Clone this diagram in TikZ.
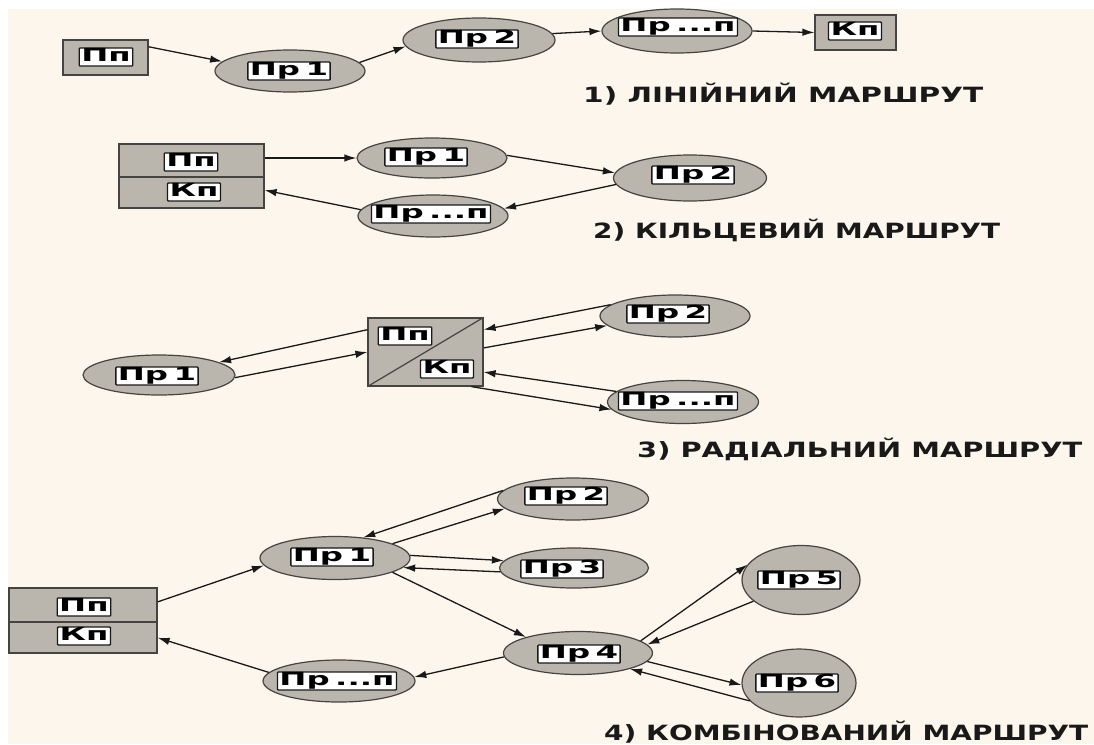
\documentclass[tikz,border=0pt]{standalone}
\usepackage{fontspec}
\usepackage{graphicx}
\usetikzlibrary{shapes.geometric,arrows.meta}
\newfontfamily\dvs{DejaVu Sans}
\definecolor{bgc}{RGB}{253,246,236}
\definecolor{shp}{RGB}{186,181,173}
\definecolor{edg}{RGB}{70,68,65}
\definecolor{ink}{RGB}{25,25,25}
\newcommand\LB[1]{\scalebox{1.8}[1]{#1}}
\tikzset{
  ell/.style={ellipse, draw=edg, line width=1.2pt, fill=shp, inner sep=0pt},
  box/.style={rectangle, draw=edg, line width=1.2pt, fill=shp, inner sep=0pt},
  lbl/.style={rectangle, draw=ink, line width=1.3pt, fill=white, inner xsep=2pt, inner ysep=1pt,
    text height=12.5pt, text depth=3.5pt, rounded corners=0.8pt,
    font=\dvs\bfseries\fontsize{18}{18}\selectfont},
  arr/.style={draw=ink, line width=1.3pt, -{Latex[length=12pt,width=7.5pt]}},
  captxt/.style={anchor=base west, inner sep=0pt, text=ink, font=\dvs\bfseries\fontsize{21}{21}\selectfont},
  divl/.style={draw=edg, line width=1.2pt}
}
\begin{document}
\begin{tikzpicture}[x=1pt,y=1pt]
\useasboundingbox (0,0) rectangle (1094,-744);
\fill[white] (0,0) rectangle (1094,-744);
\fill[bgc] (8,-9) rectangle (1094,-744);

% ---------- 1) linear ----------
\node[box, minimum width=85pt, minimum height=35pt] (A1) at (105.5,-57.5) {};
\node[ell, minimum width=150pt, minimum height=42pt] (B1) at (290,-71) {};
\node[ell, minimum width=152pt, minimum height=44pt] (C1) at (479,-40) {};
\node[ell, minimum width=150pt, minimum height=44pt] (D1) at (677,-31) {};
\node[box, minimum width=81pt, minimum height=35pt] (K1) at (855.5,-32.5) {};
\node[lbl] (A1l) at (106,-57) {\LB{Пп}};
\node[lbl] (B1l) at (289,-71) {\LB{Пр\,1}};
\node[lbl] (C1l) at (477,-39) {\LB{Пр\,2}};
\node[lbl] (D1l) at (678,-27) {\LB{Пр\,...п}};
\node[lbl] (K1l) at (855,-31) {\LB{Кп}};
\draw[arr] (A1.14) -- (B1.172);
\draw[arr] (B1.7) -- (C1.185);
\draw[arr] (C1.5) -- (D1.180);
\draw[arr] (D1.east) -- (K1.west);
\node[captxt] (T1) at (583,-102) {\resizebox{400pt}{\height}{1) ЛІНІЙНИЙ МАРШРУТ}};

% ---------- 2) ring ----------
\node[box, minimum width=145pt, minimum height=64pt] (A2) at (191.5,-176) {};
\coordinate (d2) at (0,-177);
\draw[divl] (A2.west |- d2) -- (A2.east |- d2);
\node[ell, minimum width=150pt, minimum height=40pt] (B2) at (432,-158) {};
\node[ell, minimum width=150pt, minimum height=42pt] (D2) at (433,-216) {};
\node[ell, minimum width=153pt, minimum height=46pt] (C2) at (690,-178) {};
\node[lbl] (A2l) at (191,-162) {\LB{Пп}};
\node[lbl] (A2k) at (194,-192) {\LB{Кп}};
\node[lbl] (B2l) at (426,-157) {\LB{Пр\,1}};
\node[lbl] (D2l) at (431,-214) {\LB{Пр\,...п}};
\node[lbl] (C2l) at (693,-175) {\LB{Пр\,2}};
\draw[arr] (A2.east |- B2.west) -- (B2.west);
\draw[arr] (B2.2) -- (C2.176);
\draw[arr] (C2.185) -- (D2.6);
\draw[arr] (D2.175) -- (A2.-11);
\node[captxt] (T2) at (593,-238) {\resizebox{407pt}{\height}{2) КІЛЬЦЕВИЙ МАРШРУТ}};

% ---------- 3) radial ----------
\node[box, minimum width=115pt, minimum height=68pt] (S3) at (425.5,-352) {};
\draw[divl] (S3.south west) -- (S3.north east);
\node[ell, minimum width=152pt, minimum height=40pt] (B3) at (159,-375) {};
\node[ell, minimum width=150pt, minimum height=42pt] (C3) at (675,-316) {};
\node[ell, minimum width=151pt, minimum height=43pt] (D3) at (683,-402) {};
\node[lbl] (S3l) at (405,-336) {\LB{Пп}};
\node[lbl] (S3k) at (447,-369) {\LB{Кп}};
\node[lbl] (B3l) at (157,-376) {\LB{Пр\,1}};
\node[lbl] (C3l) at (668,-314) {\LB{Пр\,2}};
\node[lbl] (D3l) at (678,-401) {\LB{Пр\,...п}};
\draw[arr] (S3.159) -- (B3.12);
\draw[arr] (B3.-2) -- (S3.west);
\draw[arr] (C3.170) -- (S3.21);
\draw[arr] (S3.4) -- (C3.188);
\draw[arr] (D3.171) -- (S3.-19);
\draw[arr] (S3.-37) -- (D3.186);
\node[captxt] (T3) at (637,-457) {\resizebox{445pt}{\height}{3) РАДІАЛЬНИЙ МАРШРУТ}};

% ---------- 4) combined ----------
\node[box, minimum width=148pt, minimum height=65pt] (A4) at (83,-620.5) {};
\coordinate (d4) at (0,-622);
\draw[divl] (A4.west |- d4) -- (A4.east |- d4);
\node[ell, minimum width=150pt, minimum height=43pt] (B4) at (335,-558) {};
\node[ell, minimum width=152pt, minimum height=42pt] (E4) at (339,-681) {};
\node[ell, minimum width=151pt, minimum height=42pt] (C4) at (573,-499) {};
\node[ell, minimum width=149pt, minimum height=40pt] (F4) at (574,-568) {};
\node[ell, minimum width=149pt, minimum height=43pt] (G4) at (578,-653) {};
\node[ell, minimum width=118pt, minimum height=69pt] (H4) at (801,-580) {};
\node[ell, minimum width=114pt, minimum height=68pt] (I4) at (799,-683) {};
\node[lbl] (A4l) at (84,-607) {\LB{Пп}};
\node[lbl] (A4k) at (84,-636) {\LB{Кп}};
\node[lbl] (B4l) at (332,-557) {\LB{Пр\,1}};
\node[lbl] (E4l) at (337,-681) {\LB{Пр\,...п}};
\node[lbl] (C4l) at (566,-496) {\LB{Пр\,2}};
\node[lbl] (F4l) at (562,-569) {\LB{Пр\,3}};
\node[lbl] (G4l) at (579,-654) {\LB{Пр\,4}};
\node[lbl] (H4l) at (799,-580) {\LB{Пр\,5}};
\node[lbl] (I4l) at (797,-683) {\LB{Пр\,6}};
\draw[arr] (A4.14) -- (B4.186);
\draw[arr] (E4.173) -- (A4.-13);
\draw[arr] (B4.14) -- (C4.188);
\draw[arr] (C4.173) -- (B4.36);
\draw[arr] (B4.2) -- (F4.174);
\draw[arr] (F4.183) -- (B4.-8);
\draw[arr] (B4.-14) -- (G4.163);
\draw[arr] (G4.183) -- (E4.3);
\draw[arr] (G4.11) -- (H4.164);
\draw[arr] (H4.204) -- (G4.7);
\draw[arr] (G4.-7) -- (I4.182);
\draw[arr] (I4.200) -- (G4.-17);
\node[captxt] (T4) at (604,-740) {\resizebox{484pt}{\height}{4) КОМБІНОВАНИЙ МАРШРУТ}};
\end{tikzpicture}
\end{document}
